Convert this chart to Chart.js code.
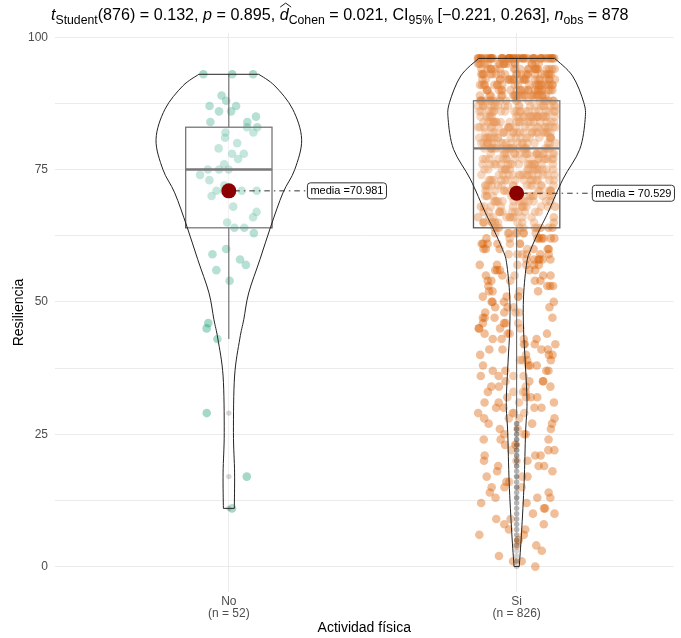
<!DOCTYPE html>
<html>
<head>
<meta charset="utf-8">
<script src="https://cdn.jsdelivr.net/npm/chart.js@4.4.1/dist/chart.umd.min.js"></script>
<style>
  body { margin: 0; background: #fff; }
  canvas { display: block; }
</style>
</head>
<body>
<canvas id="chart" width="681" height="638"></canvas>
<script>
// Categories and sample sizes
const categories = ['No', 'Si'];
const groupN = [52, 826];

// Resiliencia scores, group "No" (read off the jittered points)
const noValues = [93, 93, 93, 89, 88, 87, 87, 86, 86, 85, 84, 84, 83, 83, 82, 82, 81, 80, 79,
    78, 78, 77, 76, 75, 75, 75, 74, 73, 72, 71, 71, 71, 71, 70, 68, 67, 66, 65, 64, 64, 63,
    60, 59, 58, 57, 56, 54, 46, 45, 43, 29, 17, 11];

// Group "Si": number of observations at each score, index = score 0..96
const siCounts = [
    1, 2, 1, 1, 2, 2, 2, 2, 2, 2,          // 0-9
    2, 2, 2, 3, 2, 3, 2, 3, 2, 3,          // 10-19
    3, 3, 3, 3, 3, 3, 3, 3, 4, 4,          // 20-29
    4, 4, 4, 4, 4, 4, 4, 4, 4, 4,          // 30-39
    4, 4, 4, 4, 4, 4, 4, 4, 4, 4,          // 40-49
    4, 4, 4, 4, 5, 5, 5, 6, 6, 6,          // 50-59
    7, 7, 8, 8, 10, 11, 11, 12, 12, 13,    // 60-69
    13, 14, 14, 15, 15, 16, 17, 17, 18, 19, // 70-79
    19, 19, 20, 20, 21, 22, 20, 20, 20, 20, // 80-89
    22, 22, 22, 22, 22, 18, 38             // 90-96
];

// Box plot statistics per group
const boxQ1 = [64, 64];
const boxMedian = [75, 79];
const boxQ3 = [83, 88];
const whiskerLow = [43, 28];
const whiskerHigh = [93, 96];

// Means and their labels
const means = [70.981, 70.529];
const meanLabels = ['media =70.981', 'media = 70.529'];

// Violin outlines: score levels and half-widths (category units)
const violinNoLevels = [93, 90.8, 86.4, 80.7, 75, 70.6, 64.3, 58, 51.7, 46.7, 43, 36, 25.3, 17.7, 11];
const violinNoHalf = [0.104, 0.160, 0.222, 0.253, 0.229, 0.188, 0.146, 0.108, 0.069, 0.052, 0.038, 0.020, 0.016, 0.020, 0.019];
const violinSiLevels = [96, 92.7, 87.7, 84.5, 78.8, 73.2, 66.9, 63.7, 59.9, 57.4, 51.1, 44.8, 38.5, 31, 25.3, 15.9, 6.4, 0];
const violinSiHalf = [0.132, 0.194, 0.233, 0.238, 0.219, 0.161, 0.109, 0.080, 0.049, 0.035, 0.024, 0.024, 0.030, 0.036, 0.031, 0.026, 0.017, 0.009];

// Axis ticks
const yTicks = [0, 25, 50, 75, 100];
const yMinorTicks = [12.5, 37.5, 62.5, 87.5];

// ---- build point datasets ----
const FONT = '"Liberation Sans", Arial, Helvetica, sans-serif';
const jitterWidth = [0.10, 0.135];

// horizontal jitter only (scores are untouched): a fixed hash of the point index
function jitter(i, g) {
    const s = Math.sin((i + 1) * 12.9898 + g * 78.233) * 43758.5453;
    return (s - Math.floor(s)) * 2 - 1;
}

const siValues = [];
siCounts.forEach((c, score) => { for (let k = 0; k < c; k++) siValues.push(score); });

const groupValues = [noValues, siValues];
const jitterData = groupValues.map((vals, g) =>
    vals.map((v, i) => ({ x: g + 1 + jitter(i, g) * jitterWidth[g], y: v })));

const outlierData = [];
groupValues.forEach((vals, g) => {
    vals.filter(v => v < whiskerLow[g] || v > whiskerHigh[g])
        .forEach(v => outlierData.push({ x: g + 1, y: v }));
});

const meanData = means.map((m, g) => ({ x: g + 1, y: m }));

// ---- drawing helpers ----
function splineThrough(ctx, pts) {
    for (let i = 0; i < pts.length - 1; i++) {
        const p0 = pts[i - 1] || pts[i], p1 = pts[i], p2 = pts[i + 1], p3 = pts[i + 2] || p2;
        ctx.bezierCurveTo(
            p1.x + (p2.x - p0.x) / 6, p1.y + (p2.y - p0.y) / 6,
            p2.x - (p3.x - p1.x) / 6, p2.y - (p3.y - p1.y) / 6,
            p2.x, p2.y);
    }
}

function drawViolin(ctx, xs, ys, center, levels, half) {
    const cx = xs.getPixelForValue(center);
    const unit = xs.getPixelForValue(center + 1) - cx;
    const right = levels.map((v, i) => ({ x: cx + half[i] * unit, y: ys.getPixelForValue(v) }));
    const left = levels.map((v, i) => ({ x: cx - half[i] * unit, y: ys.getPixelForValue(v) })).reverse();
    ctx.beginPath();
    ctx.moveTo(left[left.length - 1].x, left[left.length - 1].y);
    ctx.lineTo(right[0].x, right[0].y);
    splineThrough(ctx, right);
    ctx.lineTo(left[0].x, left[0].y);
    splineThrough(ctx, left);
    ctx.closePath();
    ctx.fillStyle = 'rgba(255,255,255,0.2)';
    ctx.fill();
    ctx.strokeStyle = '#222';
    ctx.lineWidth = 1;
    ctx.stroke();
}

const labelOffset = [0.273, 0.263];

const boxViolinPlugin = {
    id: 'boxViolin',
    afterDatasetDraw(chart, args) {
        if (args.index !== 1) return;
        const ctx = chart.ctx;
        const xs = chart.scales.x, ys = chart.scales.y;
        ctx.save();
        categories.forEach((c, g) => {
            const cx = xs.getPixelForValue(g + 1);
            const bl = xs.getPixelForValue(g + 1 - 0.15), br = xs.getPixelForValue(g + 1 + 0.15);
            const yq1 = ys.getPixelForValue(boxQ1[g]), yq3 = ys.getPixelForValue(boxQ3[g]);
            // whiskers
            ctx.strokeStyle = '#333';
            ctx.lineWidth = 1;
            ctx.beginPath();
            ctx.moveTo(cx, ys.getPixelForValue(whiskerHigh[g]));
            ctx.lineTo(cx, yq3);
            ctx.moveTo(cx, yq1);
            ctx.lineTo(cx, ys.getPixelForValue(whiskerLow[g]));
            ctx.stroke();
            // box
            ctx.fillStyle = 'rgba(255,255,255,0.2)';
            ctx.fillRect(bl, yq3, br - bl, yq1 - yq3);
            ctx.strokeStyle = '#555';
            ctx.lineWidth = 1.3;
            ctx.strokeRect(bl, yq3, br - bl, yq1 - yq3);
            ctx.lineWidth = 2.4;
            const ym = ys.getPixelForValue(boxMedian[g]);
            ctx.beginPath();
            ctx.moveTo(bl, ym);
            ctx.lineTo(br, ym);
            ctx.stroke();
        });
        drawViolin(ctx, xs, ys, 1, violinNoLevels, violinNoHalf);
        drawViolin(ctx, xs, ys, 2, violinSiLevels, violinSiHalf);

        // dot-dash connectors from mean to label
        ctx.strokeStyle = '#333';
        ctx.lineWidth = 1;
        ctx.setLineDash([1.5, 4, 5.5, 4]);
        means.forEach((m, g) => {
            const y = ys.getPixelForValue(m);
            ctx.beginPath();
            ctx.moveTo(xs.getPixelForValue(g + 1), y);
            ctx.lineTo(xs.getPixelForValue(g + 1 + labelOffset[g]), y);
            ctx.stroke();
        });
        ctx.restore();
    },
    afterDatasetsDraw(chart) {
        const ctx = chart.ctx;
        const xs = chart.scales.x, ys = chart.scales.y;
        ctx.save();
        ctx.font = '11px ' + FONT;
        ctx.textBaseline = 'middle';
        means.forEach((m, g) => {
            const x = xs.getPixelForValue(g + 1 + labelOffset[g]);
            const y = ys.getPixelForValue(m);
            const w = ctx.measureText(meanLabels[g]).width + 6;
            const h = 16;
            ctx.beginPath();
            ctx.roundRect(x, y - h / 2, w, h, 3);
            ctx.fillStyle = '#fff';
            ctx.fill();
            ctx.strokeStyle = '#333';
            ctx.lineWidth = 1;
            ctx.stroke();
            ctx.fillStyle = '#000';
            ctx.fillText(meanLabels[g], x + 3, y + 0.5);
        });
        ctx.restore();
    }
};

// subtitle with italics and subscripts
const titleParts = [
    { t: 't', it: true }, { t: 'Student', sub: true }, { t: '(876) = 0.132, ' },
    { t: 'p', it: true }, { t: ' = 0.895, ' },
    { t: 'd', it: true, hat: true }, { t: 'Cohen', sub: true }, { t: ' = 0.021, CI' },
    { t: '95%', sub: true }, { t: ' [\u22120.221, 0.263], ' },
    { t: 'n', it: true }, { t: 'obs', sub: true }, { t: ' = 878' }
];

const titlePlugin = {
    id: 'statTitle',
    afterDraw(chart) {
        const ctx = chart.ctx;
        const left = 51, targetWidth = 578;
        let size = 12.5;
        const fontOf = (p, s) => (p.it ? 'italic ' : '') + (p.sub ? s * 0.76 : s) + 'px ' + FONT;
        ctx.save();
        let total = 0;
        titleParts.forEach(p => { ctx.font = fontOf(p, size); total += ctx.measureText(p.t).width; });
        size = size * targetWidth / total;
        ctx.fillStyle = '#000';
        ctx.strokeStyle = '#000';
        ctx.textBaseline = 'alphabetic';
        let x = left;
        const base = 20;
        titleParts.forEach(p => {
            ctx.font = fontOf(p, size);
            const w = ctx.measureText(p.t).width;
            ctx.fillText(p.t, x, p.sub ? base + size * 0.22 : base);
            if (p.hat) {
                const top = base - size * 0.8;
                ctx.lineWidth = 0.9;
                ctx.beginPath();
                ctx.moveTo(x + 0.5, top);
                ctx.lineTo(x + w / 2 + 1.5, top - 4);
                ctx.lineTo(x + w + 2.5, top);
                ctx.stroke();
            }
            x += w;
        });
        ctx.restore();
    }
};

const gridColor = '#ebebeb';

new Chart(document.getElementById('chart'), {
    type: 'scatter',
    data: {
        datasets: [
            { label: categories[0], data: jitterData[0], backgroundColor: 'rgba(27,158,119,0.4)', pointRadius: 4.3, pointBorderWidth: 0, order: 5 },
            { label: categories[1], data: jitterData[1], backgroundColor: 'rgba(217,95,2,0.4)', pointRadius: 4.3, pointBorderWidth: 0, order: 4 },
            { label: 'outliers', data: outlierData, backgroundColor: 'rgba(51,51,51,0.2)', pointRadius: 2.7, pointBorderWidth: 0, order: 2 },
            { label: 'media', data: meanData, backgroundColor: '#8b0000', pointRadius: 7.5, pointBorderWidth: 0, order: 1 }
        ]
    },
    options: {
        responsive: false,
        animation: false,
        events: [],
        layout: { padding: { top: 33, right: 7, left: 0, bottom: 0 } },
        plugins: { legend: { display: false }, tooltip: { enabled: false } },
        scales: {
            x: {
                type: 'linear',
                min: 0.396,
                max: 2.545,
                afterBuildTicks: s => { s.ticks = categories.map((c, i) => ({ value: i + 1 })); },
                afterFit: s => { s.height = 46; },
                grid: { color: gridColor, drawTicks: false, lineWidth: 1 },
                border: { display: false },
                ticks: {
                    autoSkip: false,
                    maxRotation: 0,
                    padding: 4,
                    color: '#4d4d4d',
                    font: { family: FONT, size: 12, lineHeight: 1.0 },
                    callback: v => {
                        const i = Math.round(v) - 1;
                        return [categories[i], '(n = ' + groupN[i] + ')'];
                    }
                },
                title: {
                    display: true,
                    text: 'Actividad f\u00edsica',
                    color: '#000',
                    font: { family: FONT, size: 14 },
                    padding: { top: 0, bottom: 1.5 }
                }
            },
            y: {
                min: -4.8,
                max: 100.8,
                afterBuildTicks: s => {
                    s.ticks = yTicks.concat(yMinorTicks).sort((a, b) => a - b).map(v => ({ value: v }));
                },
                afterFit: s => { s.width = 55; },
                grid: { color: gridColor, drawTicks: false, lineWidth: 1 },
                border: { display: false },
                ticks: {
                    autoSkip: false,
                    padding: 7,
                    color: '#4d4d4d',
                    font: { family: FONT, size: 12 },
                    callback: v => (yTicks.includes(v) ? String(v) : '')
                },
                title: {
                    display: true,
                    text: 'Resiliencia',
                    color: '#000',
                    font: { family: FONT, size: 14 },
                    padding: { top: 11, bottom: 0 }
                }
            }
        }
    },
    plugins: [boxViolinPlugin, titlePlugin]
});
</script>
</body>
</html>
